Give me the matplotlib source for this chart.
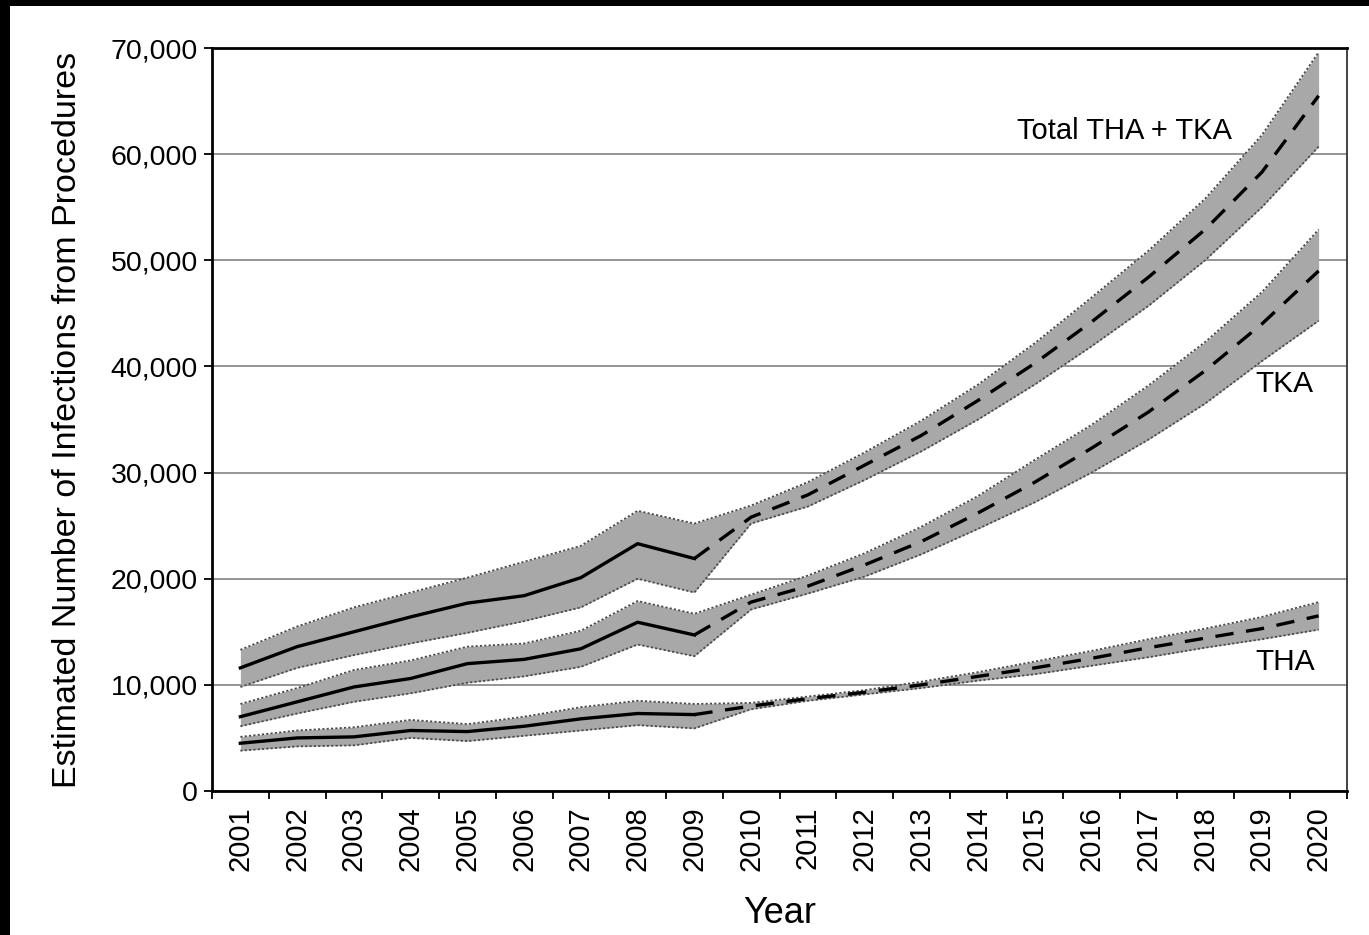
import matplotlib
matplotlib.use("Agg")
import matplotlib.pyplot as plt
from matplotlib.patches import Rectangle
from matplotlib.ticker import FuncFormatter, MultipleLocator
import numpy as np

plt.rcParams['font.family'] = ['Liberation Sans', 'DejaVu Sans']

years = list(range(2001, 2021))
year_labels = [str(y) for y in years]

total_mid = [11600, 13600, 15000, 16400, 17700, 18400, 20100, 23300, 21900,
             25800, 27900, 30700, 33500, 36800, 40300, 44200, 48400, 52900, 58300, 65500]
total_hi = [13300, 15500, 17300, 18700, 20100, 21600, 23100, 26400, 25200,
            26900, 29100, 31900, 34900, 38300, 42200, 46500, 50900, 55800, 61800, 69600]
total_lo = [9800, 11600, 12800, 13900, 14900, 16000, 17300, 20000, 18700,
            25200, 26800, 29300, 32000, 35000, 38300, 41900, 45700, 50000, 55000, 60700]

tka_mid = [7000, 8400, 9800, 10600, 12000, 12400, 13400, 15900, 14700,
           17800, 19300, 21300, 23500, 26200, 29100, 32300, 35700, 39600, 44000, 49000]
tka_hi = [8200, 9700, 11400, 12300, 13600, 13900, 15100, 17900, 16700,
          18500, 20300, 22400, 24900, 27800, 31200, 34500, 38200, 42300, 47000, 52900]
tka_lo = [6100, 7300, 8400, 9200, 10200, 10800, 11700, 13800, 12700,
          17100, 18600, 20200, 22300, 24700, 27200, 30000, 33100, 36500, 40500, 44300]

tha_mid = [4500, 5000, 5100, 5700, 5600, 6100, 6800, 7300, 7200,
           8000, 8700, 9300, 10000, 10800, 11600, 12500, 13500, 14400, 15300, 16500]
tha_hi = [5100, 5700, 6000, 6700, 6300, 7000, 7900, 8500, 8200,
          8300, 8900, 9500, 10300, 11200, 12200, 13200, 14300, 15300, 16400, 17800]
tha_lo = [3800, 4200, 4300, 5000, 4700, 5200, 5700, 6200, 5900,
          7700, 8500, 9100, 9700, 10400, 11000, 11800, 12600, 13500, 14300, 15200]

last_observed = 2009
series = [
    ("Total THA + TKA", total_mid, total_hi, total_lo),
    ("TKA", tka_mid, tka_hi, tka_lo),
    ("THA", tha_mid, tha_hi, tha_lo),
]

fig = plt.figure(figsize=(13.69, 9.35), dpi=100)
fig.patch.set_facecolor('black')
fig.patches.append(Rectangle((10 / 1369, 0), 1, (935 - 6) / 935,
                             transform=fig.transFigure, facecolor='white',
                             edgecolor='none', zorder=-10))
ax = fig.add_axes([212 / 1369, 1 - 791 / 935, (1347 - 212) / 1369, (791 - 48) / 935])
ax.set_facecolor('white')

x = np.array(years)
split = years.index(last_observed)
fill_col = '#a8a8a8'
edge_col = '#4a4a4a'
for name, mid, hi, lo in series:
    mid = np.array(mid); hi = np.array(hi); lo = np.array(lo)
    ax.fill_between(x, lo, hi, color=fill_col, lw=0, zorder=2)
    ax.plot(x, hi, color=edge_col, lw=1.3, ls=(0, (1.2, 1.2)), zorder=3)
    ax.plot(x, lo, color=edge_col, lw=1.3, ls=(0, (1.2, 1.2)), zorder=3)
    ax.plot(x[:split + 1], mid[:split + 1], color='black', lw=2.4, zorder=4,
            solid_joinstyle='round')
    ax.plot(x[split:], mid[split:], color='black', lw=2.4, ls=(0, (5.5, 3.8)), zorder=4)

ax.set_xlim(2000.5, 2020.5)
ax.set_ylim(0, 70000)
ax.yaxis.set_major_locator(MultipleLocator(10000))
ax.yaxis.set_major_formatter(FuncFormatter(lambda v, p: f"{int(v):,}"))
ax.grid(axis='y', color='#8c8c8c', lw=1.3, zorder=1)
ax.set_axisbelow(True)

ax.set_xticks(years)
ax.set_xticklabels(year_labels, rotation=90, fontsize=21)
ax.set_xticks(np.arange(2000.5, 2021, 1.0), minor=True)
ax.tick_params(axis='x', which='major', length=0, pad=11)
ax.tick_params(axis='x', which='minor', length=6, width=1.3, direction='out')
ax.tick_params(axis='y', which='major', length=6, width=1.3, direction='out',
               labelsize=20.5, pad=4)

for side in ['left', 'bottom']:
    ax.spines[side].set_linewidth(2.0)
    ax.spines[side].set_color('black')
ax.spines['top'].set_linewidth(2.0)
ax.spines['right'].set_linewidth(1.3)
ax.spines['right'].set_color('#333333')

ax.set_xlabel("Year", fontsize=26, labelpad=18)
ax.set_ylabel("Estimated Number of Infections from Procedures", fontsize=24.5, labelpad=20)

ax.text(2018.47, 62200, "Total THA + TKA", fontsize=21, ha='right', va='center', zorder=5)
ax.text(2018.88, 38300, "TKA", fontsize=21.5, ha='left', va='center', zorder=5)
ax.text(2018.88, 12200, "THA", fontsize=21.5, ha='left', va='center', zorder=5)

fig.savefig("out.png", dpi=100)
